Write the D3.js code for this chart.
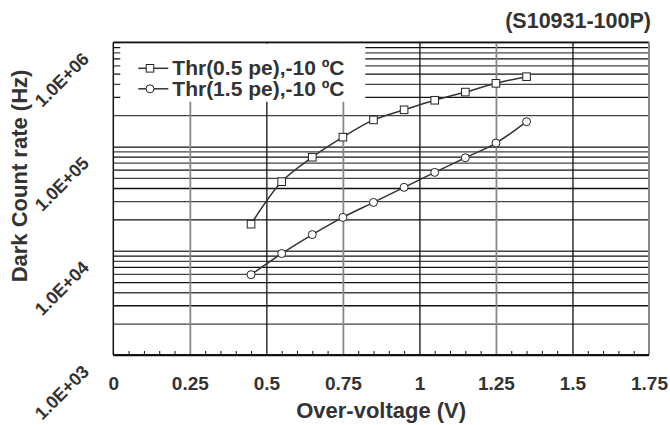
<!DOCTYPE html>
<html>
<head>
<meta charset="utf-8">
<script src="https://cdn.jsdelivr.net/npm/d3@7"></script>
<style>
  body { margin: 0; background: #fff; }
  svg { display: block; }
  text { font-family: "Liberation Sans", Arial, sans-serif; font-weight: bold; fill: #333; }
</style>
</head>
<body>
<div id="chart"></div>
<script>
// over-voltage values (V)
var overVoltage = [0.45, 0.55, 0.65, 0.75, 0.85, 0.95, 1.05, 1.15, 1.25, 1.35];
// dark count rate (Hz)
var thr05 = [18000, 46000, 79000, 123000, 180000, 225000, 278000, 333000, 404000, 468000];
var thr15 = [5900, 9400, 14300, 20900, 29100, 40600, 56500, 78000, 108000, 173000];
var seriesNames = ['Thr(0.5 pe),-10 ºC', 'Thr(1.5 pe),-10 ºC'];
var xTicks = [0, 0.25, 0.5, 0.75, 1, 1.25, 1.5, 1.75];
var xTickLabels = ['0', '0.25', '0.5', '0.75', '1', '1.25', '1.5', '1.75'];
var yTicks = [1e3, 1e4, 1e5, 1e6];
var yTickLabels = ['1.0E+03', '1.0E+04', '1.0E+05', '1.0E+06'];

var svgWidth = 670, svgHeight = 425;
var margin = { top: 42.3, left: 113.3, right: 21, bottom: 70 };
var chartWidth = svgWidth - margin.left - margin.right;
var chartHeight = svgHeight - margin.top - margin.bottom;

var svg = d3.select('#chart').append('svg')
    .attr('width', svgWidth)
    .attr('height', svgHeight);

var chartGroup = svg.append('g')
    .attr('transform', `translate(${margin.left}, ${margin.top})`);

var xScale = d3.scaleLinear().domain([0, 1.75]).range([0, chartWidth]);
var yScale = d3.scaleLog().domain([1e3, 1e6]).range([chartHeight, 0]);

// all horizontal grid values 1..9 x 10^k
var gridVals = [];
[1e3, 1e4, 1e5].forEach(function(d) {
    for (var i = 1; i <= 9; i++) gridVals.push(d * i);
});
gridVals.push(1e6);

// horizontal grid
var hGrid = chartGroup.append('g')
    .call(d3.axisLeft(yScale).tickValues(gridVals).tickSize(-chartWidth).tickFormat(''));
hGrid.select('.domain').remove();
hGrid.selectAll('line')
    .attr('stroke', function(d, i) { return i % 2 ? '#444' : '#111'; })
    .attr('stroke-width', 1.3);

// vertical grid
var vGrid = chartGroup.append('g')
    .call(d3.axisBottom(xScale).tickValues(xTicks.slice(1, -1)).tickSize(chartHeight).tickFormat(''));
vGrid.select('.domain').remove();
vGrid.selectAll('line')
    .attr('stroke', function(d, i) { return i % 2 ? '#111' : '#888'; })
    .attr('stroke-width', function(d, i) { return i % 2 ? 1.3 : 1.8; });

// legend box covering the grid
var legend = chartGroup.append('g');
legend.append('rect')
    .attr('x', 7).attr('y', 1.5)
    .attr('width', 245).attr('height', 58)
    .attr('fill', '#fff');

// minor x ticks
var minorTicks = d3.range(0.05, 1.75, 0.05).filter(function(d) {
    return Math.abs(d / 0.25 - Math.round(d / 0.25)) > 0.01;
});
chartGroup.append('g')
    .attr('transform', `translate(0, ${chartHeight})`)
    .call(d3.axisTop(xScale).tickValues(minorTicks).tickSize(4).tickFormat(''))
    .call(function(g) { g.select('.domain').remove(); })
    .selectAll('line').attr('stroke', '#111').attr('stroke-width', 1);

// frame
chartGroup.append('line')
    .attr('x1', 0).attr('x2', chartWidth).attr('y1', 0).attr('y2', 0)
    .attr('stroke', '#111').attr('stroke-width', 1.5);
chartGroup.append('line')
    .attr('x1', chartWidth).attr('x2', chartWidth).attr('y1', 0).attr('y2', chartHeight)
    .attr('stroke', '#888').attr('stroke-width', 2);
chartGroup.append('line')
    .attr('x1', 0).attr('x2', 0).attr('y1', 0).attr('y2', chartHeight)
    .attr('stroke', '#111').attr('stroke-width', 1.5);
chartGroup.append('line')
    .attr('x1', 0).attr('x2', chartWidth).attr('y1', chartHeight).attr('y2', chartHeight)
    .attr('stroke', '#111').attr('stroke-width', 2);

// x axis labels
var xAxis = chartGroup.append('g')
    .attr('transform', `translate(0, ${chartHeight})`)
    .call(d3.axisBottom(xScale).tickValues(xTicks).tickSize(0).tickPadding(22)
        .tickFormat(function(d, i) { return xTickLabels[i]; }));
xAxis.select('.domain').remove();
xAxis.selectAll('text')
    .style('font-size', '19px')
    .attr('font-family', null)
    .attr('fill', '#333');

// y axis labels, rotated
var yAxis = chartGroup.append('g')
    .call(d3.axisLeft(yScale).tickValues(yTicks).tickSize(0)
        .tickFormat(function(d, i) { return yTickLabels[i]; }));
yAxis.select('.domain').remove();
yAxis.selectAll('text')
    .attr('x', null).attr('dy', null)
    .attr('text-anchor', 'middle')
    .attr('dominant-baseline', 'central')
    .attr('fill', '#333')
    .attr('transform', 'translate(' + (62 - margin.left) + ', 37) rotate(-45)')
    .style('font-size', '18px');

// axis titles
svg.append('text')
    .attr('x', margin.left + chartWidth / 2)
    .attr('y', 418)
    .attr('text-anchor', 'middle')
    .style('font-size', '22px')
    .text('Over-voltage (V)');

svg.append('text')
    .attr('transform', 'translate(27, 176) rotate(-90)')
    .attr('text-anchor', 'middle')
    .style('font-size', '22px')
    .text('Dark Count rate (Hz)');

svg.append('text')
    .attr('x', 651)
    .attr('y', 28)
    .attr('text-anchor', 'end')
    .style('font-size', '21.5px')
    .text('(S10931-100P)');

// lines and markers
var line = d3.line()
    .x(function(d) { return xScale(d[0]); })
    .y(function(d) { return yScale(d[1]); })
    .curve(d3.curveCatmullRom.alpha(0.5));

var data05 = overVoltage.map(function(v, i) { return [v, thr05[i]]; });
var data15 = overVoltage.map(function(v, i) { return [v, thr15[i]]; });

[data05, data15].forEach(function(data) {
    chartGroup.append('path')
        .datum(data)
        .attr('d', line)
        .attr('fill', 'none')
        .attr('stroke', '#333')
        .attr('stroke-width', 1.5);
});

chartGroup.selectAll('.sq')
    .data(data05)
    .enter()
    .append('rect')
    .attr('class', 'sq')
    .attr('x', function(d) { return xScale(d[0]) - 3.8; })
    .attr('y', function(d) { return yScale(d[1]) - 3.8; })
    .attr('width', 7.6).attr('height', 7.6)
    .attr('fill', '#fff').attr('stroke', '#222').attr('stroke-width', 1);

chartGroup.selectAll('.ci')
    .data(data15)
    .enter()
    .append('circle')
    .attr('class', 'ci')
    .attr('cx', function(d) { return xScale(d[0]); })
    .attr('cy', function(d) { return yScale(d[1]); })
    .attr('r', 4)
    .attr('fill', '#fff').attr('stroke', '#222').attr('stroke-width', 1);

// legend entries
seriesNames.forEach(function(name, i) {
    var ly = 26 + i * 20.5;
    legend.append('line')
        .attr('x1', 25).attr('x2', 55).attr('y1', ly).attr('y2', ly)
        .attr('stroke', '#333').attr('stroke-width', 1.5);
    if (i === 0) {
        legend.append('rect')
            .attr('x', 36.7 - 3.8).attr('y', ly - 3.8)
            .attr('width', 7.6).attr('height', 7.6)
            .attr('fill', '#fff').attr('stroke', '#222');
    } else {
        legend.append('circle')
            .attr('cx', 36.7).attr('cy', ly).attr('r', 4)
            .attr('fill', '#fff').attr('stroke', '#222');
    }
    legend.append('text')
        .attr('x', 59)
        .attr('y', ly + 7)
        .style('font-size', '21px')
        .text(name);
});
</script>
</body>
</html>
